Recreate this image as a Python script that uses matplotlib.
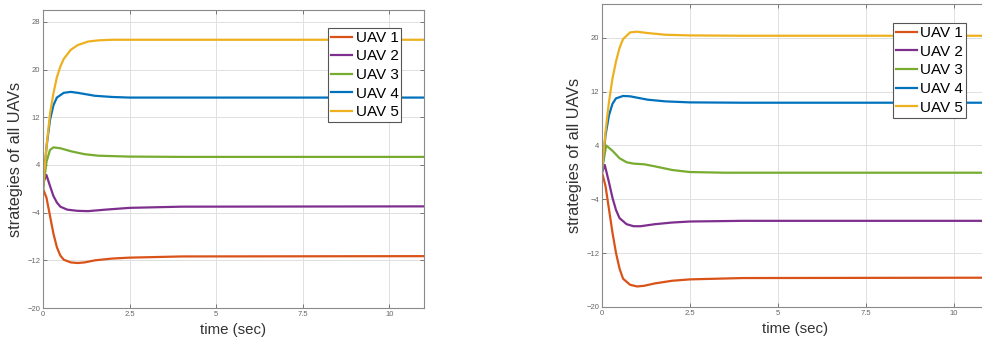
import numpy as np
import matplotlib.pyplot as plt

plt.rcParams['font.family'] = ['Liberation Sans', 'DejaVu Sans']

labels = ["UAV 1", "UAV 2", "UAV 3", "UAV 4", "UAV 5"]
colors = ["#D95319", "#7E2F8E", "#77AC30", "#0072BD", "#EDB120"]

# left panel
tA1 = [0, 0.1, 0.2, 0.3, 0.4, 0.5, 0.6, 0.8, 1.0, 1.2, 1.5, 2.0, 2.5, 4, 11]
yA1 = [0, -1.5, -4.5, -7.5, -9.8, -11.2, -11.9, -12.35, -12.45, -12.35, -12.0, -11.7, -11.55, -11.35, -11.3]
tA2 = [0, 0.1, 0.2, 0.3, 0.4, 0.5, 0.7, 1.0, 1.3, 1.8, 2.5, 4, 11]
yA2 = [1.0, 2.3, 0.5, -1.2, -2.3, -3.0, -3.5, -3.7, -3.75, -3.5, -3.2, -3.0, -2.95]
tA3 = [0, 0.1, 0.2, 0.3, 0.5, 0.8, 1.2, 1.6, 2.5, 4, 11]
yA3 = [0, 4.5, 6.5, 6.95, 6.8, 6.3, 5.8, 5.55, 5.4, 5.35, 5.35]
tA4 = [0, 0.1, 0.2, 0.3, 0.4, 0.6, 0.8, 1.0, 1.5, 2.0, 2.5, 4, 11]
yA4 = [0, 7, 11.5, 14, 15.3, 16.1, 16.25, 16.1, 15.6, 15.4, 15.3, 15.3, 15.3]
tA5 = [0, 0.1, 0.2, 0.3, 0.4, 0.5, 0.6, 0.8, 1.0, 1.3, 1.6, 2.0, 4, 11]
yA5 = [0, 7, 12.5, 16, 18.7, 20.5, 21.8, 23.3, 24.1, 24.7, 24.9, 25.0, 25.0, 25.0]

# right panel
tB1 = [0, 0.1, 0.2, 0.3, 0.4, 0.5, 0.6, 0.8, 1.0, 1.2, 1.5, 2.0, 2.5, 4, 11]
yB1 = [0, -2, -5.5, -9, -12, -14.3, -15.8, -16.7, -16.95, -16.85, -16.5, -16.1, -15.9, -15.7, -15.65]
tB2 = [0, 0.08, 0.2, 0.3, 0.4, 0.5, 0.7, 0.9, 1.1, 1.5, 2.0, 2.5, 4, 11]
yB2 = [0, 1.1, -1.5, -3.8, -5.6, -6.8, -7.7, -8.0, -8.0, -7.7, -7.45, -7.3, -7.2, -7.2]
tB3 = [0, 0.12, 0.3, 0.5, 0.7, 0.9, 1.2, 1.5, 2.0, 2.5, 3.5, 11]
yB3 = [0.3, 4.0, 3.2, 2.1, 1.5, 1.3, 1.2, 0.9, 0.35, 0.05, -0.05, -0.05]
tB4 = [0, 0.1, 0.2, 0.3, 0.4, 0.6, 0.8, 1.0, 1.3, 1.8, 2.5, 4, 11]
yB4 = [0, 5.5, 8.5, 10.2, 11.0, 11.35, 11.3, 11.1, 10.8, 10.55, 10.4, 10.35, 10.35]
tB5 = [0, 0.1, 0.2, 0.3, 0.4, 0.5, 0.6, 0.8, 1.0, 1.3, 1.8, 2.5, 4, 11]
yB5 = [0, 6, 10.5, 14, 16.5, 18.5, 19.8, 20.8, 20.9, 20.7, 20.45, 20.35, 20.3, 20.3]

left_t = [tA1, tA2, tA3, tA4, tA5]
left_y = [yA1, yA2, yA3, yA4, yA5]
right_t = [tB1, tB2, tB3, tB4, tB5]
right_y = [yB1, yB2, yB3, yB4, yB5]

fig = plt.figure(figsize=(9.82, 3.43), dpi=100)
ax1 = fig.add_axes([0.0438, 0.102, 0.388, 0.869])
ax2 = fig.add_axes([0.613, 0.105, 0.394, 0.883])


def style(ax, ts, ys, yt, ylim, leg_anchor):
    for t, y, c, l in zip(ts, ys, colors, labels):
        ax.plot(t, y, color=c, lw=1.6, label=l)
    ax.set_xlim(0, 11)
    ax.set_ylim(*ylim)
    ax.set_xticks([0, 2.5, 5, 7.5, 10])
    ax.set_xticklabels(["0", "2.5", "5", "7.5", "10"])
    ax.set_yticks(yt)
    ax.grid(True, color="#e0e0e0", lw=0.7)
    ax.tick_params(direction="in", length=3, width=0.6, labelsize=5.5,
                   colors="#666666", top=True, right=True, pad=2)
    for s in ax.spines.values():
        s.set_color("#8a8a8a")
        s.set_linewidth(0.8)
    ax.set_xlabel("time (sec)", fontsize=10.8, color="#333333", labelpad=4)
    ax.set_ylabel("strategies of all UAVs", fontsize=11.8, color="#333333", labelpad=3)
    leg = ax.legend(loc="upper left", bbox_to_anchor=leg_anchor, fontsize=11,
                    frameon=True, fancybox=False, borderpad=0.2, labelspacing=0.3,
                    handlelength=1.4, handletextpad=0.2, borderaxespad=0)
    leg.get_frame().set_edgecolor("#555555")
    leg.get_frame().set_linewidth(0.8)
    leg.get_frame().set_alpha(1)


style(ax1, left_t, left_y, [-20, -12, -4, 4, 12, 20, 28], (-20, 30), (0.748, 0.94))
style(ax2, right_t, right_y, [-20, -12, -4, 4, 12, 20], (-20, 25), (0.752, 0.937))

fig.savefig("out.png", dpi=100)
